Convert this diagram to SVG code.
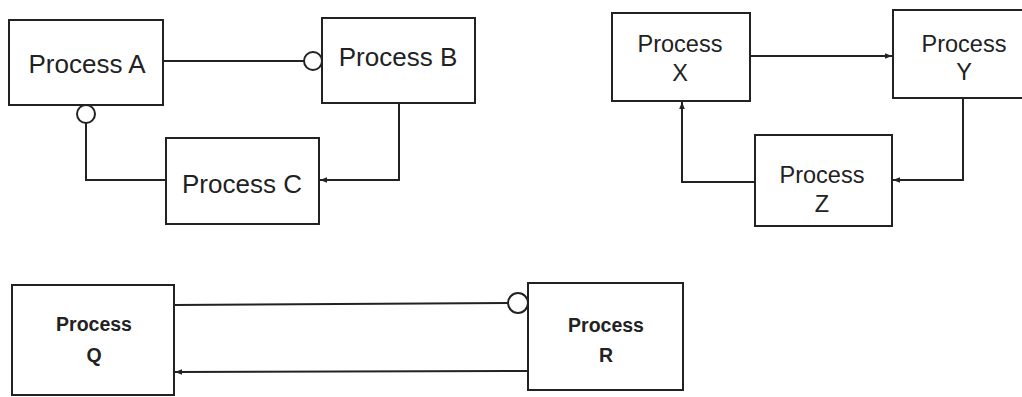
<svg xmlns="http://www.w3.org/2000/svg" width="1022" height="397" viewBox="0 0 1022 397">
<defs>
<marker id="arr" viewBox="0 0 10 10" refX="10" refY="5" markerWidth="7" markerHeight="7" markerUnits="userSpaceOnUse" orient="auto">
<path d="M0,1 L10,5 L0,9 Z" fill="#222"/>
</marker>
<style>
.box{fill:#fff;stroke:#222;stroke-width:2}
.ln{fill:none;stroke:#222;stroke-width:2}
.cir{fill:#fff;stroke:#222;stroke-width:2}
.t1{font-family:"Liberation Sans",Arial,sans-serif;font-size:26px;fill:#222;text-anchor:middle}
.t2{font-family:"Liberation Sans",Arial,sans-serif;font-size:23.5px;fill:#222;text-anchor:middle}
.t3{font-family:"Liberation Sans",Arial,sans-serif;font-size:19.5px;font-weight:bold;fill:#222;text-anchor:middle}
</style>
</defs>
<rect width="1022" height="397" fill="#fff"/>
<g id="connectors">
<line class="ln" x1="163" y1="61" x2="304" y2="61"/>
<circle class="cir" cx="313" cy="61" r="9"/>
<polyline class="ln" points="86,123 86,180 166,180"/>
<circle class="cir" cx="86" cy="114" r="9"/>
<polyline class="ln" points="399,103 399,180 320,180" marker-end="url(#arr)"/>
<line class="ln" x1="750" y1="56" x2="892" y2="56" marker-end="url(#arr)"/>
<polyline class="ln" points="963,98 963,180 893,180" marker-end="url(#arr)"/>
<polyline class="ln" points="755,182 682,182 682,102" marker-end="url(#arr)"/>
<line class="ln" x1="174" y1="305" x2="508" y2="303"/>
<circle class="cir" cx="518" cy="303" r="10"/>
<line class="ln" x1="528" y1="371" x2="175" y2="372" marker-end="url(#arr)"/>
</g>
<g id="processA">
<rect class="box" x="9" y="20" width="154" height="85"/>
<text class="t1" x="87" y="73">Process A</text>
</g>
<g id="processB">
<rect class="box" x="322" y="18" width="153" height="85"/>
<text class="t1" x="398" y="66">Process B</text>
</g>
<g id="processC">
<rect class="box" x="166" y="138" width="153" height="86"/>
<text class="t1" x="242" y="193">Process C</text>
</g>
<g id="processX">
<rect class="box" x="612" y="13" width="138" height="88"/>
<text class="t2" x="680" y="52">Process</text>
<text class="t2" x="680" y="81">X</text>
</g>
<g id="processY">
<rect class="box" x="893" y="10" width="142" height="88"/>
<text class="t2" x="964" y="52">Process</text>
<text class="t2" x="964" y="80">Y</text>
</g>
<g id="processZ">
<rect class="box" x="755" y="135" width="137" height="91"/>
<text class="t2" x="822" y="183">Process</text>
<text class="t2" x="822" y="212">Z</text>
</g>
<g id="processQ">
<rect class="box" x="12" y="285" width="162" height="110"/>
<text class="t3" x="94" y="331">Process</text>
<text class="t3" x="94" y="362">Q</text>
</g>
<g id="processR">
<rect class="box" x="528" y="283" width="155" height="107"/>
<text class="t3" x="606" y="332">Process</text>
<text class="t3" x="606" y="362">R</text>
</g>
</svg>
